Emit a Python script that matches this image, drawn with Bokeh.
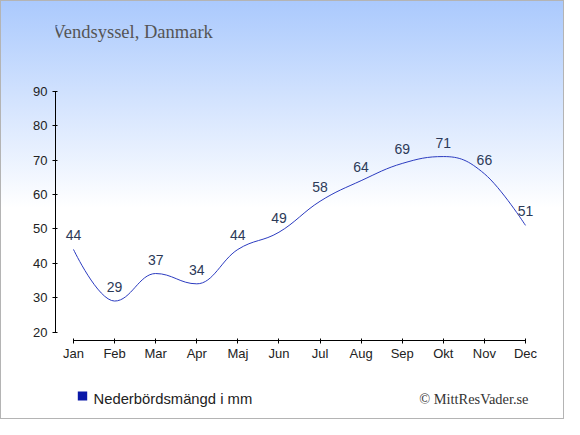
from bokeh.plotting import figure
from bokeh.layouts import column
from bokeh.models import (ColumnDataSource, FixedTicker, LabelSet, Label,
                          BoxAnnotation, Range1d)
from bokeh.core.properties import value
from bokeh.embed import file_html
from bokeh.resources import INLINE

months = ["Jan", "Feb", "Mar", "Apr", "Maj", "Jun", "Jul", "Aug", "Sep", "Okt", "Nov", "Dec"]
precip = [44, 29, 37, 34, 44, 49, 58, 64, 69, 71, 66, 51]
y_ticks = [20, 30, 40, 50, 60, 70, 80, 90]
title_text = "Vendsyssel, Danmark"
legend_text = "Nederbördsmängd i mm"
credit_text = "© MittResVader.se"

xs = list(range(len(months)))
W = 564
LEFT, RIGHT = 55, 19   # frame borders shared by all three stacked figures


def spline_segments(x, y, smoothing=1.5):
    """Bezier control points for a smooth curve that does not overshoot."""
    n = len(x)
    denom = smoothing + 1
    lc = [None] * n
    rc = [None] * n
    for i in range(n):
        if 0 < i < n - 1:
            lx = (smoothing * x[i] + x[i - 1]) / denom
            ly = (smoothing * y[i] + y[i - 1]) / denom
            rx = (smoothing * x[i] + x[i + 1]) / denom
            ry = (smoothing * y[i] + y[i + 1]) / denom
            corr = 0.0
            if rx != lx:
                corr = (ry - ly) * (rx - x[i]) / (rx - lx) + y[i] - ry
            ly += corr
            ry += corr
            if ly > y[i - 1] and ly > y[i]:
                ly = max(y[i - 1], y[i]); ry = 2 * y[i] - ly
            elif ly < y[i - 1] and ly < y[i]:
                ly = min(y[i - 1], y[i]); ry = 2 * y[i] - ly
            if ry > y[i + 1] and ry > y[i]:
                ry = max(y[i + 1], y[i]); ly = 2 * y[i] - ry
            elif ry < y[i + 1] and ry < y[i]:
                ry = min(y[i + 1], y[i]); ly = 2 * y[i] - ry
            lc[i] = (lx, ly)
            rc[i] = (rx, ry)
        else:
            lc[i] = (x[i], y[i])
            rc[i] = (x[i], y[i])
    seg = dict(x0=[], y0=[], x1=[], y1=[], cx0=[], cy0=[], cx1=[], cy1=[])
    for i in range(1, n):
        seg["x0"].append(x[i - 1]); seg["y0"].append(y[i - 1])
        seg["x1"].append(x[i]); seg["y1"].append(y[i])
        seg["cx0"].append(rc[i - 1][0]); seg["cy0"].append(rc[i - 1][1])
        seg["cx1"].append(lc[i][0]); seg["cy1"].append(lc[i][1])
    return seg


def plain_fig(h, top):
    # text panel: x data = page pixels, y data = page pixels (downwards)
    f = figure(width=W, height=h, output_backend="svg", toolbar_location=None,
               title_location=None,
               x_range=Range1d(LEFT, W - RIGHT), y_range=Range1d(top + h, top),
               x_axis_location=None, y_axis_location=None,
               min_border_left=LEFT, min_border_right=RIGHT,
               min_border_top=0, min_border_bottom=0)
    f.grid.visible = False
    f.background_fill_color = None
    f.border_fill_color = None
    f.outline_line_color = None
    return f


# ---- header with title ----
head = plain_fig(75, 0)
head.add_layout(Label(x=52, y=31, text=title_text, text_font="Liberation Serif",
                      text_font_size="18.5px", text_color="#555555",
                      text_baseline="alphabetic"))

# ---- main chart ----
p = figure(width=W, height=290, output_backend="svg", toolbar_location=None,
           title_location=None,
           x_range=Range1d(-0.438, 11.487), y_range=Range1d(17.53, 92.24),
           min_border_left=LEFT, min_border_right=RIGHT, min_border_top=8,
           min_border_bottom=25)
p.background_fill_color = None
p.border_fill_color = None
p.outline_line_color = None
p.grid.visible = False

seg = spline_segments(xs, precip)
p.bezier(x0="x0", y0="y0", x1="x1", y1="y1", cx0="cx0", cy0="cy0",
         cx1="cx1", cy1="cy1", source=ColumnDataSource(seg),
         line_color="#2b3bc0", line_width=1)

src = ColumnDataSource(dict(x=xs, y=precip, t=[str(v) for v in precip]))
p.add_layout(LabelSet(x="x", y="y", text="t", source=src, y_offset=9,
                      text_align="center", text_baseline="alphabetic",
                      text_font=value("Liberation Sans"), text_font_size=value("14px"),
                      text_color="#2c3a58"))

for ax in (p.xaxis[0], p.yaxis[0]):
    ax.axis_line_color = "#000000"
    ax.major_tick_line_color = "#000000"
    ax.minor_tick_line_color = None
    ax.major_tick_in = 2
    ax.major_tick_out = 3
    ax.major_label_text_font = "Liberation Sans"
    ax.major_label_text_font_size = "13px"
    ax.major_label_text_color = "#222222"

p.xaxis.ticker = FixedTicker(ticks=xs)
p.xaxis.major_label_overrides = {i: m for i, m in enumerate(months)}
p.xaxis.bounds = (0, len(months) - 1)
p.xaxis.major_label_standoff = 2
p.yaxis.ticker = FixedTicker(ticks=y_ticks)
p.yaxis.bounds = (y_ticks[0], y_ticks[-1])
p.yaxis.major_label_standoff = 5

# ---- footer with legend and credit ----
foot = plain_fig(54, 365)
foot.add_layout(BoxAnnotation(left=77.3, right=86.7, top=391, bottom=400,
                              fill_color="#0a18a8", fill_alpha=1, line_color=None))
foot.add_layout(Label(x=93, y=398, text=legend_text, text_font="Liberation Sans",
                      text_font_size="14.8px", text_color="#222222",
                      text_baseline="alphabetic"))
foot.add_layout(Label(x=528, y=398, text=credit_text, text_font="Liberation Serif",
                      text_font_size="14.4px", text_color="#333333",
                      text_baseline="alphabetic", text_align="right"))

page = column(head, p, foot, spacing=0,
              styles={"background": "linear-gradient(to bottom, #aac9fd 0px, #ffffff 208px)",
                      "outline": "1px solid #b4b4b4", "outline-offset": "-1px"})

open("out.html", "w").write(file_html(page, INLINE))
